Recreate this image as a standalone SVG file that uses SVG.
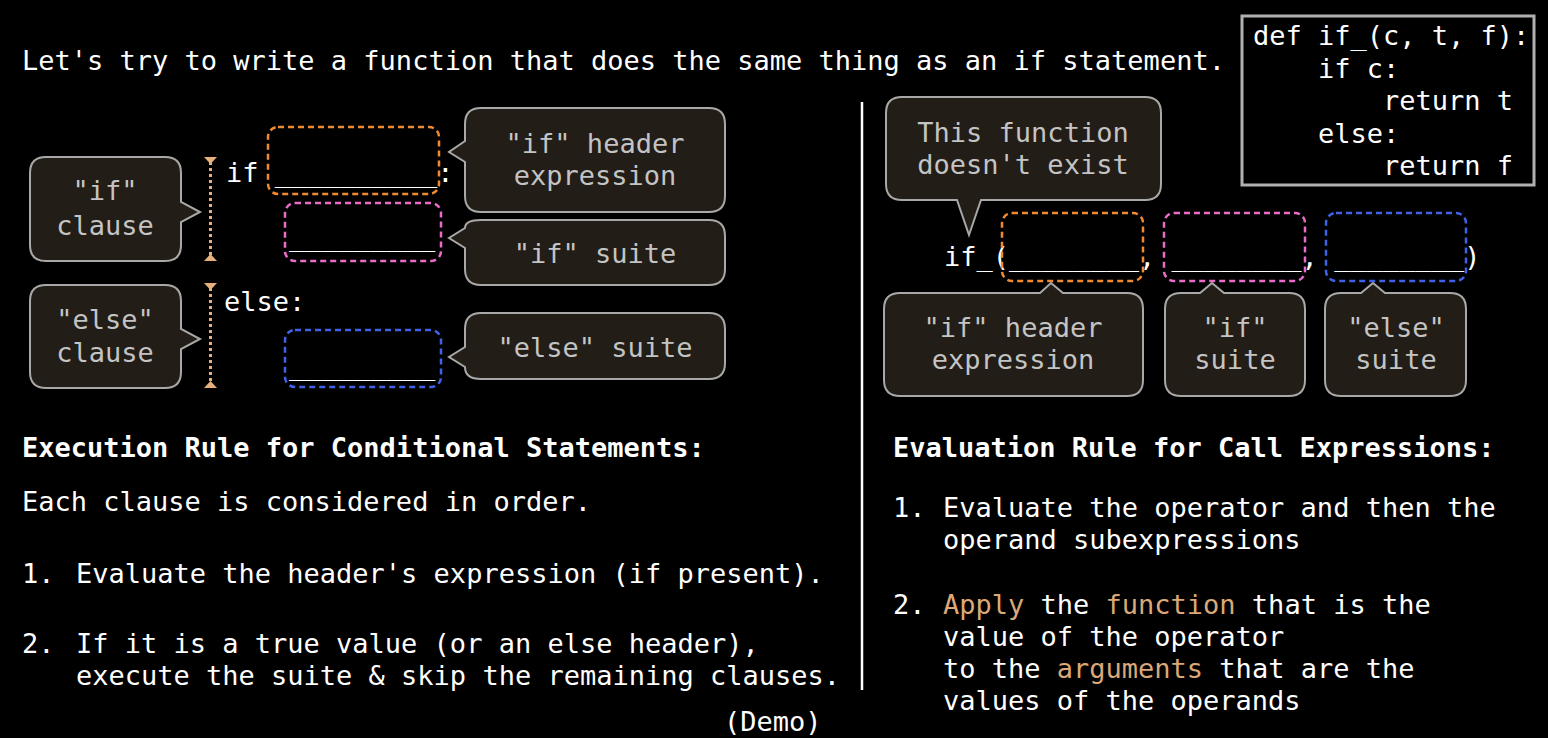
<svg xmlns="http://www.w3.org/2000/svg" width="1548" height="738" viewBox="0 0 1548 738">
<style>
text{font-family:"DejaVu Sans Mono","Liberation Mono",monospace;font-size:27px;fill:#ffffff}
.c{fill:#c4c4c4;text-anchor:middle}
.b{font-weight:bold}
.h{fill:#dba878}
.call{fill:#221d17;stroke:#a8a8a8;stroke-width:2}
.dash{fill:none;stroke-width:2.5;stroke-dasharray:6 4}
.br{stroke:#e6b07c;stroke-width:3;stroke-dasharray:3 3}
.tri{fill:#e6b07c}
</style>
<rect x="0" y="0" width="1548" height="738" fill="#000"/>

<text x="22" y="70">Let's try to write a function that does the same thing as an if statement.</text>

<g id="code">
<rect x="1242" y="16" width="292" height="169" fill="#000" stroke="#b0b0b0" stroke-width="3"/>
<text x="1253" y="45" xml:space="preserve">def if_(c, t, f):</text>
<text x="1253" y="78" xml:space="preserve">    if c:</text>
<text x="1253" y="110" xml:space="preserve">        return t</text>
<text x="1253" y="143" xml:space="preserve">    else:</text>
<text x="1253" y="175" xml:space="preserve">        return f</text>
</g>

<g id="divider"><line x1="862" y1="102" x2="862" y2="690" stroke="#fff" stroke-width="2.5"/></g>

<g id="if-clause-callout">
<path class="call" d="M46 157H165Q181 157 181 173V202L200 212L181 222V245Q181 261 165 261H46Q30 261 30 245V173Q30 157 46 157Z"/>
<text class="c" x="105" y="200">"if"</text>
<text class="c" x="105" y="235">clause</text>
</g>
<g id="else-clause-callout">
<path class="call" d="M46 285H165Q181 285 181 301V329L200 339L181 349V372Q181 388 165 388H46Q30 388 30 372V301Q30 285 46 285Z"/>
<text class="c" x="105" y="329">"else"</text>
<text class="c" x="105" y="362">clause</text>
</g>

<g id="brackets">
<line class="br" x1="210.5" y1="162" x2="210.5" y2="256"/>
<polygon class="tri" points="204,157 217,157 210.5,164"/>
<polygon class="tri" points="204,261 217,261 210.5,254"/>
<line class="br" x1="210.5" y1="288" x2="210.5" y2="383"/>
<polygon class="tri" points="204,283 217,283 210.5,290"/>
<polygon class="tri" points="204,388 217,388 210.5,381"/>
</g>

<g id="if-statement">
<text x="226" y="182" xml:space="preserve">if __________:</text>
<text x="289" y="246">_________</text>
<text x="224" y="311">else:</text>
<text x="289" y="375">_________</text>
<rect class="dash" x="268" y="127" width="171" height="67" rx="10" stroke="#f08a32"/>
<rect class="dash" x="285" y="203" width="156" height="58" rx="10" stroke="#e86cc8"/>
<rect class="dash" x="285" y="330" width="156" height="57" rx="10" stroke="#3f62e6"/>
</g>

<g id="header-expr-callout">
<path class="call" d="M481 108H709Q725 108 725 124V196Q725 212 709 212H481Q465 212 465 196V162L449 152L465 141V124Q465 108 481 108Z"/>
<text class="c" x="595" y="153">"if" header</text>
<text class="c" x="595" y="185">expression</text>
</g>
<g id="if-suite-callout">
<path class="call" d="M481 220H709Q725 220 725 236V269Q725 285 709 285H481Q465 285 465 269V248L449 238L465 228Q465 220 481 220Z"/>
<text class="c" x="595" y="263">"if" suite</text>
</g>
<g id="else-suite-callout">
<path class="call" d="M481 313H709Q725 313 725 329V363Q725 379 709 379H481Q465 379 465 367L449 357L465 347V329Q465 313 481 313Z"/>
<text class="c" x="595" y="357">"else" suite</text>
</g>

<g id="not-exist-callout">
<path class="call" d="M902 97H1145Q1161 97 1161 113V184Q1161 200 1145 200H981L969 235L957 200H902Q886 200 886 184V113Q886 97 902 97Z"/>
<text class="c" x="1023" y="142">This function</text>
<text class="c" x="1023" y="174">doesn't exist</text>
</g>

<g id="call-expression">
<text x="944" y="266">if_(________, ________, ________)</text>
<rect class="dash" x="1002" y="213" width="141" height="68" rx="10" stroke="#f08a32"/>
<rect class="dash" x="1164" y="213" width="141" height="68" rx="10" stroke="#e86cc8"/>
<rect class="dash" x="1326" y="213" width="140" height="68" rx="10" stroke="#3f62e6"/>
</g>

<g id="header-expr-callout-2">
<path class="call" d="M900 293H1040L1051 283L1063 293H1127Q1143 293 1143 309V380Q1143 396 1127 396H900Q884 396 884 380V309Q884 293 900 293Z"/>
<text class="c" x="1013" y="337">"if" header</text>
<text class="c" x="1013" y="369">expression</text>
</g>
<g id="if-suite-callout-2">
<path class="call" d="M1181 293H1200L1212 283L1224 293H1289Q1305 293 1305 309V380Q1305 396 1289 396H1181Q1165 396 1165 380V309Q1165 293 1181 293Z"/>
<text class="c" x="1235" y="337">"if"</text>
<text class="c" x="1235" y="369">suite</text>
</g>
<g id="else-suite-callout-2">
<path class="call" d="M1341 293H1361L1373 283L1385 293H1450Q1466 293 1466 309V380Q1466 396 1450 396H1341Q1325 396 1325 380V309Q1325 293 1341 293Z"/>
<text class="c" x="1396" y="337">"else"</text>
<text class="c" x="1396" y="369">suite</text>
</g>

<g id="execution-rule">
<text class="b" x="22" y="457">Execution Rule for Conditional Statements:</text>
<text x="22" y="511">Each clause is considered in order.</text>
<text x="22" y="583">1.</text>
<text x="76" y="583">Evaluate the header's expression (if present).</text>
<text x="22" y="653">2.</text>
<text x="76" y="653">If it is a true value (or an else header),</text>
<text x="76" y="685">execute the suite &amp; skip the remaining clauses.</text>
<text x="724" y="731">(Demo)</text>
</g>

<g id="evaluation-rule">
<text class="b" x="893" y="457">Evaluation Rule for Call Expressions:</text>
<text x="893" y="517">1.</text>
<text x="943" y="517">Evaluate the operator and then the</text>
<text x="943" y="549">operand subexpressions</text>
<text x="893" y="614">2.</text>
<text x="943" y="614" xml:space="preserve"><tspan class="h">Apply</tspan> the <tspan class="h">function</tspan> that is the</text>
<text x="943" y="646">value of the operator</text>
<text x="943" y="678" xml:space="preserve">to the <tspan class="h">arguments</tspan> that are the</text>
<text x="943" y="710">values of the operands</text>
</g>
</svg>
